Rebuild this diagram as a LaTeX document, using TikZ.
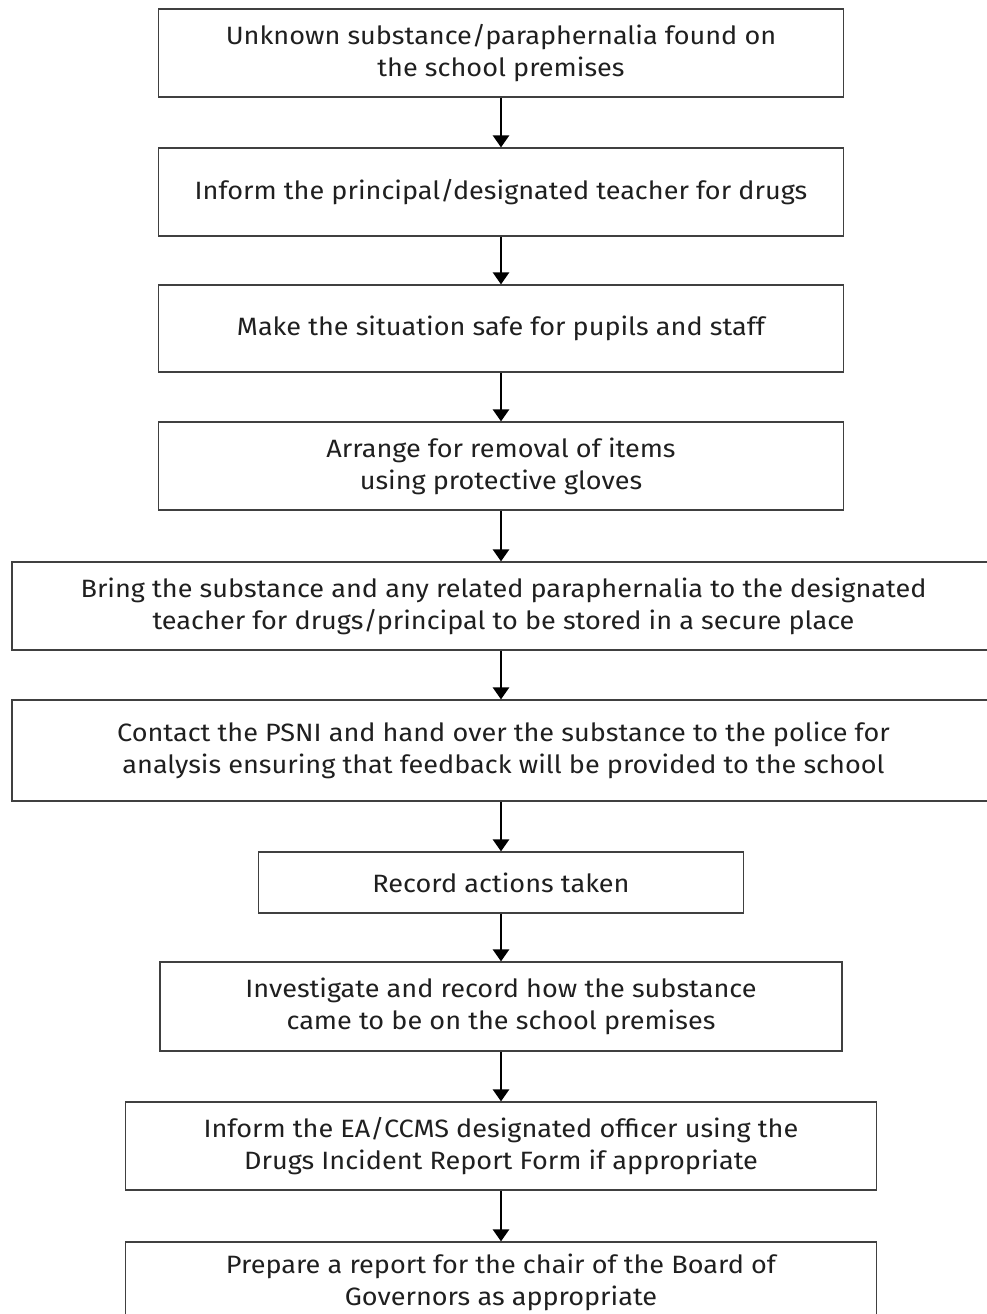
\documentclass[tikz,border=0pt]{standalone}
\usepackage{fontspec}
\setmainfont{Fira Sans}[FakeStretch=1.08]
\usetikzlibrary{arrows.meta}

\begin{document}
\begin{tikzpicture}[x=0.75pt,y=0.75pt,yscale=-1,xscale=1,
  stepbox/.style={draw=black!75, line width=0.9pt, align=center, inner sep=0pt,
    text=black!88, font=\fontsize{18.8}{24}\selectfont},
  flow/.style={line width=1.9pt, -{Triangle[width=12pt,length=9pt]}}]
\useasboundingbox (0,0) rectangle (986,1314);

% Boxes
\node [stepbox, minimum width=513.75pt, minimum height=66pt] (found) at (501,53)
  {Unknown substance/paraphernalia found on\\the school premises};
\node [stepbox, minimum width=513.75pt, minimum height=66pt] (inform) at (501,192)
  {Inform the principal/designated teacher for drugs};
\node [stepbox, minimum width=513.75pt, minimum height=65.25pt] (safe) at (501,328.5)
  {Make the situation safe for pupils and staff};
\node [stepbox, minimum width=513.75pt, minimum height=66pt] (removal) at (501,466)
  {Arrange for removal of items\\using protective gloves};
\node [stepbox, minimum width=737.25pt, minimum height=66pt] (bring) at (503.5,606)
  {Bring the substance and any related paraphernalia to the designated\\teacher for drugs/principal to be stored in a secure place};
\node [stepbox, minimum width=737.25pt, minimum height=75.75pt] (psni) at (503.5,750.5)
  {Contact the PSNI and hand over the substance to the police for\\analysis ensuring that feedback will be provided to the school};
\node [stepbox, minimum width=363.75pt, minimum height=45.75pt] (record) at (501,882.5)
  {Record actions taken};
\node [stepbox, minimum width=511.5pt, minimum height=66.75pt] (investigate) at (501,1006.5)
  {Investigate and record how the substance\\came to be on the school premises};
\node [stepbox, minimum width=563.25pt, minimum height=66pt] (officer) at (501,1146)
  {Inform the EA/CCMS designated officer using the\\Drugs Incident Report Form if appropriate};
\node [stepbox, minimum width=563.25pt, minimum height=60pt] (report) at (501,1282)
  {Prepare a report for the chair of the Board of\\Governors as appropriate};

% Arrows
\draw [flow] (found) -- (inform);
\draw [flow] (inform) -- (safe);
\draw [flow] (safe) -- (removal);
\draw [flow] (removal) -- (removal |- bring.north);
\draw [flow] (removal |- bring.south) -- (removal |- psni.north);
\draw [flow] (removal |- psni.south) -- (record);
\draw [flow] (record) -- (investigate);
\draw [flow] (investigate) -- (officer);
\draw [flow] (officer) -- (report);

\end{tikzpicture}
\end{document}
